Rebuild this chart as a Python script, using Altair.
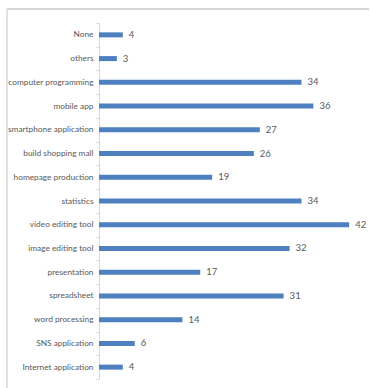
import altair as alt
import pandas as pd

categories = ["None", "others", "computer programming", "mobile app", "smartphone application",
              "build shopping mall", "homepage production", "statistics", "video editing tool",
              "image editing tool", "presentation", "spreadsheet", "word processing",
              "SNS application", "Internet application"]
values = [4, 3, 34, 36, 27, 26, 19, 34, 42, 32, 17, 31, 14, 6, 4]

df = pd.DataFrame({"cat": categories, "val": values})

FONT = "Lato"
TXT = "#595959"

y = alt.Y("cat:N", sort=categories, title=None,
          scale=alt.Scale(paddingInner=0.0, paddingOuter=0.0),
          axis=alt.Axis(labelFont=FONT, labelFontSize=8.3, labelColor=TXT, labelPadding=3,
                        domainColor="#d9d9d9", tickColor="#d9d9d9", tickSize=3,
                        tickBand="extent", labelLimit=200))
x = alt.X("val:Q", scale=alt.Scale(domain=[0, 45], nice=False), axis=None, title=None)

base = alt.Chart(df)
bars = base.mark_bar(size=5, color="#4E7FBF").encode(x=x, y=y)
labels = base.mark_text(align="left", dx=6, font=FONT, fontSize=9.5, color=TXT).encode(
    x=x, y=y, text="val:Q")

border_top = alt.Chart(df).mark_rule(color="#d6d6d6", strokeWidth=1).encode(
    x=alt.value(-92), x2=alt.value(270), y=alt.value(-14))
border_left = alt.Chart(df).mark_rule(color="#e0e0e0", strokeWidth=1).encode(
    x=alt.value(-92), y=alt.value(-14), y2=alt.value(370))

chart = alt.layer(border_top, border_left, bars, labels).properties(
    width=268, height=356,
    autosize=alt.AutoSizeParams(type="none"),
    padding={"left": 99, "top": 23, "right": 3, "bottom": 9},
).configure(background="white").configure_view(strokeWidth=0, stroke=None)

chart.save("out.html", embed_options={"renderer": "svg", "actions": False})
